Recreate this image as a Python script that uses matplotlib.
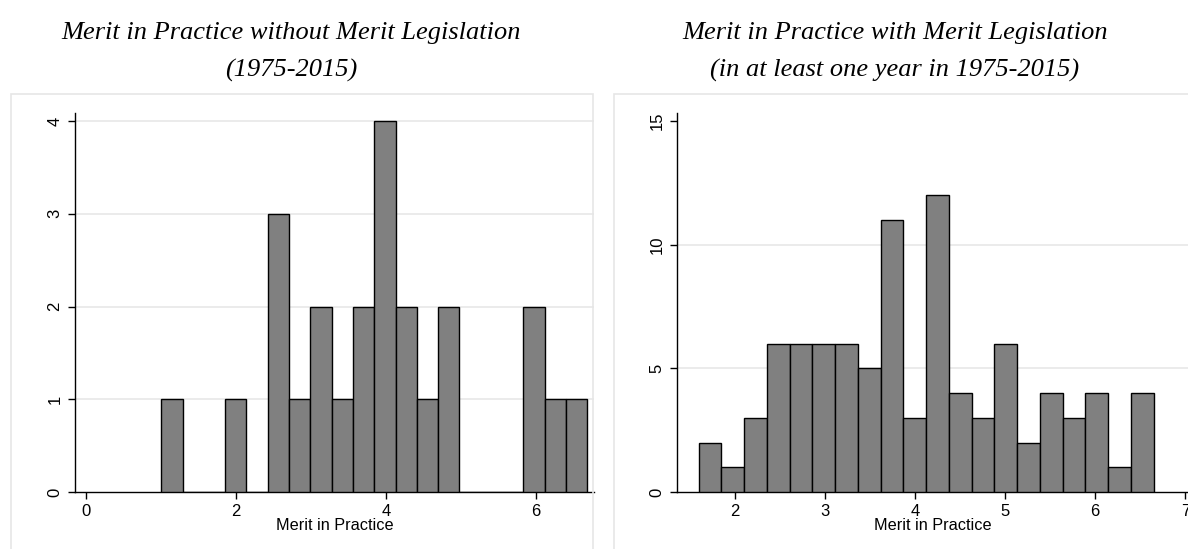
import matplotlib.pyplot as plt
import numpy as np
from matplotlib.patches import Rectangle

# histogram counts, 20 bins each
sin_ley_inicio = 1.0
sin_ley_ancho = 0.284
sin_ley_conteos = [1, 0, 0, 1, 0, 3, 1, 2, 1, 2, 4, 2, 1, 2, 0, 0, 0, 2, 1, 1]

con_ley_inicio = 1.60
con_ley_ancho = 0.2525
con_ley_conteos = [2, 1, 3, 6, 6, 6, 6, 5, 11, 3, 12, 4, 3, 6, 2, 4, 3, 4, 1, 4]

titulos_izq = ["Merit in Practice without Merit Legislation", "(1975-2015)"]
titulos_der = ["Merit in Practice with Merit Legislation",
               "(in at least one year in 1975-2015)"]
xticks_izq = [0, 2, 4, 6]
yticks_izq = [0, 1, 2, 3, 4]
xticks_der = [2, 3, 4, 5, 6, 7]
yticks_der = [0, 5, 10, 15]

plt.rcParams['font.family'] = ['Liberation Sans', 'DejaVu Sans']

fig = plt.figure(figsize=(11.88, 5.49), dpi=100)
W, H = 1188, 549

# light frames around each panel (open at the bottom / right edge)
for x0, x1 in [(11, 593), (614, 1200)]:
    fig.patches.append(Rectangle((x0 / W, -0.05), (x1 - x0) / W, 1.05 - 94 / H,
                                 transform=fig.transFigure, fill=False,
                                 edgecolor='#e6e6e6', linewidth=1.2))


def histograma(ax, inicio, ancho, conteos, xlim, ylim, xticks, yticks, grid):
    bordes = inicio + ancho * np.arange(len(conteos))
    ax.bar(bordes, conteos, width=ancho, align='edge', color='#808080',
           edgecolor='black', linewidth=1.0, zorder=3)
    ax.set_xlim(*xlim)
    ax.set_ylim(*ylim)
    ax.set_xticks(xticks)
    ax.set_yticks(yticks)
    for g in grid:
        ax.axhline(g, color='#e8e8e8', linewidth=1.2, zorder=1)
    for s in ['top', 'right']:
        ax.spines[s].set_visible(False)
    for s in ['left', 'bottom']:
        ax.spines[s].set_linewidth(1.0)
    ax.tick_params(axis='both', direction='out', length=5, width=1.0,
                   labelsize=12, pad=4)
    for lab in ax.get_yticklabels():
        lab.set_rotation(90)
        lab.set_va('center')
    ax.set_xlabel('Merit in Practice', fontsize=11.7, labelpad=-1)
    ax.patch.set_alpha(0)


ax1 = fig.add_axes([75 / W, 1 - 492 / H, (594 - 75) / W, (492 - 112.7) / H])
histograma(ax1, sin_ley_inicio, sin_ley_ancho, sin_ley_conteos,
           (-0.15, 6.77), (0, 4.09), xticks_izq, yticks_izq, [1, 2, 3, 4])

ax2 = fig.add_axes([677 / W, 1 - 492 / H, (1188 - 677) / W, (492 - 112.7) / H])
histograma(ax2, con_ley_inicio, con_ley_ancho, con_ley_conteos,
           (1.36, 7.03), (0, 15.34), xticks_der, yticks_der, [5, 10])

# titles in serif italic, two lines each
for cx, lineas in [(291, titulos_izq), (895, titulos_der)]:
    for cy, t in zip([33, 70], lineas):
        fig.text(cx / W, 1 - cy / H, t, ha='center', va='center',
                 family=['Liberation Serif'], style='italic', fontsize=19)

fig.savefig('out.png', dpi=100)
